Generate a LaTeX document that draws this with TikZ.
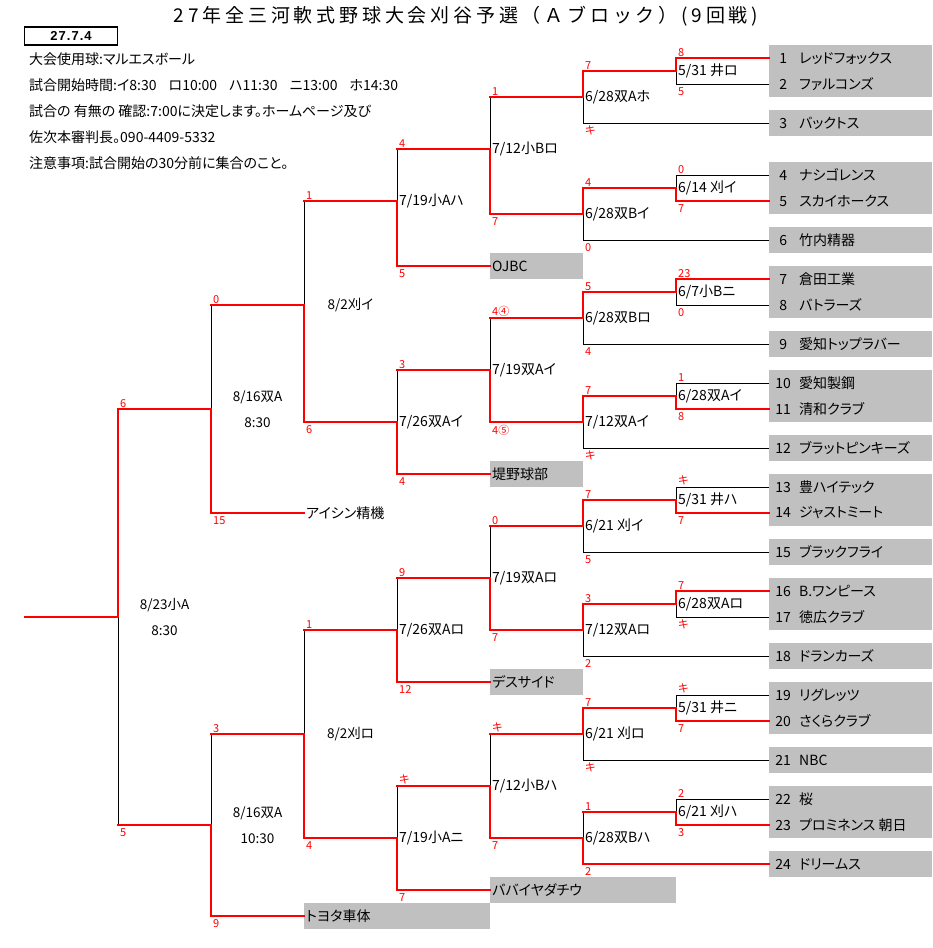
\documentclass[tikz,border=0pt]{standalone}
\usepackage{fontspec}
\setmainfont{Noto Sans CJK JP}[RawFeature=+palt]
\newfontfamily\headfont{Noto Sans CJK JP}[LetterSpace=20]
\newfontfamily\datefont{Liberation Sans}[LetterSpace=8]
\usepackage{tikz}
\usetikzlibrary{positioning}
\usetikzlibrary{calc}
\definecolor{slotgray}{RGB}{192,192,192}
\definecolor{winred}{RGB}{255,0,0}
\newcommand\colx[1]{25+93*#1}
\newcommand\rowy[1]{13*#1+6}
\newcommand\namefont{\fontsize{14}{16}\selectfont}
\newcommand\scorefont{\fontsize{11}{12}\selectfont}
\tikzset{
    win/.style = {draw=winred, line width=2pt, line cap=rect},
    lose/.style = {draw=black, line width=0.9pt, line cap=rect},
}
\tikzset{
    team/.style = {fill=slotgray, anchor=west, minimum height=26pt, inner xsep=4pt, inner ysep=0pt, font=\namefont},
    slot/.style = {fill=slotgray, anchor=west, minimum height=26pt, inner xsep=2pt, inner ysep=0pt, font=\namefont},
    plainslot/.style = {anchor=west, inner xsep=2pt, inner ysep=0pt, font=\namefont},
    matchlabel/.style = {anchor=west, inner sep=0pt, xshift=2pt, font=\namefont},
    midlabel/.style = {align=center, inner sep=0pt, font=\fontsize{13.5}{26}\selectfont},
    topscore/.style = {text=winred, inner sep=0pt, anchor=south west, xshift=2pt, yshift=1.5pt, font=\scorefont},
    botscore/.style = {text=winred, inner sep=0pt, anchor=north west, xshift=2pt, yshift=-3pt, font=\scorefont},
    note/.style = {anchor=west, inner sep=0pt, font=\namefont},
    headline/.style = {inner sep=0pt, font=\headfont\fontsize{19}{22}\selectfont},
    datebox/.style = {draw, line width=1.8pt, minimum width=93pt, minimum height=18pt, inner sep=0pt, font=\datefont\bfseries\fontsize{13}{13}\selectfont},
}

\begin{document}
\begin{tikzpicture}[x=1pt, y=-1pt]
    \useasboundingbox (0,0) rectangle (932,948);

    \node[headline] (title) at (466,16) {27年全三河軟式野球大会刈谷予選（Ａブロック）(9回戦)};
    \node[datebox] (date) at (71,36) {27.7.4};
    \foreach \i/\txt in {0/大会使用球:マルエスボール,
            1/試合開始時間:イ8:30\hspace{12pt}ロ10:00\hspace{12pt}ハ11:30\hspace{12pt}ニ13:00\hspace{12pt}ホ14:30,
            2/試合の 有無の 確認:7:00に決定します。ホームページ及び,
            3/佐次本審判長。090-4409-5332,
            4/注意事項:試合開始の30分前に集合のこと。}
        \node[note] (note\i) at (29,{59+26*\i}) {\txt};

    \foreach \m/\k/\rt/\rj/\rb in {m0/1/31/47/63, m1a/2/23/31/39, m1b/2/56/63/70,
            m2a/3/15/23/32, m2b/3/48/56/64,
            m3a/4/11/15/20, m3b/4/28/32/36, m3c/4/44/48/52, m3d/4/60/64/68,
            m4a/5/7/11/16, m4b/5/24/28/32, m4c/5/40/44/48, m4d/5/56/60/64,
            m5a/6/5/7/9, m5b/6/14/16/18, m5c/6/22/24/26, m5d/6/30/32/34,
            m5e/6/38/40/42, m5f/6/46/48/50, m5g/6/54/56/58, m5h/6/62/64/66,
            m6a/7/4/5/6, m6b/7/13/14/15, m6c/7/21/22/23, m6d/7/29/30/31,
            m6e/7/37/38/39, m6f/7/45/46/47, m6g/7/53/54/55, m6h/7/61/62/63}
    {
        \coordinate (\m-t) at ({\colx{\k}},{\rowy{\rt}});
        \coordinate (\m-j) at ({\colx{\k}},{\rowy{\rj}});
        \coordinate (\m-b) at ({\colx{\k}},{\rowy{\rb}});
    }
    \coordinate (champ) at ({\colx{0}},{\rowy{47}});

    \foreach \n/\r/\tm in {1/4/レッドフォックス, 2/6/ファルコンズ, 3/9/バックトス,
            4/13/ナシゴレンス, 5/15/スカイホークス, 6/18/竹内精器,
            7/21/倉田工業, 8/23/バトラーズ, 9/26/愛知トップラバー,
            10/29/愛知製鋼, 11/31/清和クラブ, 12/34/ブラットピンキーズ,
            13/37/豊ハイテック, 14/39/ジャストミート, 15/42/ブラックフライ,
            16/45/B.ワンピース, 17/47/徳広クラブ, 18/50/ドランカーズ,
            19/53/リグレッツ, 20/55/さくらクラブ, 21/58/NBC,
            22/61/桜, 23/63/プロミネンス 朝日, 24/66/ドリームス}
        \node[team] (t\n) at ({\colx{8}},{\rowy{\r}}) {\makebox[20pt][c]{\n}\hspace{6pt}\makebox[129pt][l]{\tm}};

    \node[slot] (ojbc) at ({\colx{5}},{\rowy{20}}) {\makebox[89pt][l]{OJBC}};
    \node[slot] (tsutsumi) at ({\colx{5}},{\rowy{36}}) {\makebox[89pt][l]{堤野球部}};
    \node[slot] (deathside) at ({\colx{5}},{\rowy{52}}) {\makebox[89pt][l]{デスサイド}};
    \node[slot] (babaiya) at ({\colx{5}},{\rowy{68}}) {\makebox[182pt][l]{ババイヤダチウ}};
    \node[slot] (toyota) at ({\colx{3}},{\rowy{70}}) {\makebox[182pt][l]{トヨタ車体}};
    \node[plainslot] (aisin) at ({\colx{3}},{\rowy{39}}) {アイシン精機};

    \foreach \m/\w in {m0/t, m1a/b, m1b/b, m2a/b, m2b/b, m3a/b, m3b/b, m3c/b, m3d/b,
            m4a/b, m4b/b, m4c/b, m4d/b, m5a/t, m5b/t, m5c/t, m5d/t, m5e/t, m5f/t, m5g/t, m5h/b,
            m6a/t, m6b/b, m6c/t, m6d/b, m6e/b, m6f/t, m6g/b, m6h/b}
        \draw[lose] (\m-t) -- (\m-b);

    \foreach \src/\dst in {m5a-b/t3.west, m5b-b/t6.west, m5c-b/t9.west, m5d-b/t12.west,
            m5e-b/t15.west, m5f-b/t18.west, m5g-b/t21.west,
            m6a-b/t2.west, m6b-t/t4.west, m6c-b/t8.west, m6d-t/t10.west,
            m6e-t/t13.west, m6f-b/t17.west, m6g-t/t19.west, m6h-t/t22.west}
        \draw[lose] (\src) -- (\dst);

    \foreach \m/\w in {m0/t, m1a/b, m1b/b, m2a/b, m2b/b, m3a/b, m3b/b, m3c/b, m3d/b,
            m4a/b, m4b/b, m4c/b, m4d/b, m5a/t, m5b/t, m5c/t, m5d/t, m5e/t, m5f/t, m5g/t, m5h/b,
            m6a/t, m6b/b, m6c/t, m6d/b, m6e/b, m6f/t, m6g/b, m6h/b}
        \draw[win] (\m-j) -- (\m-\w);

    \foreach \src/\dst in {champ/m0-j, m0-t/m1a-j, m0-b/m1b-j,
            m1a-t/m2a-j, m1a-b/aisin.west, m1b-t/m2b-j, m1b-b/toyota.west,
            m2a-t/m3a-j, m2a-b/m3b-j, m2b-t/m3c-j, m2b-b/m3d-j,
            m3a-t/m4a-j, m3a-b/ojbc.west, m3b-t/m4b-j, m3b-b/tsutsumi.west,
            m3c-t/m4c-j, m3c-b/deathside.west, m3d-t/m4d-j, m3d-b/babaiya.west,
            m4a-t/m5a-j, m4a-b/m5b-j, m4b-t/m5c-j, m4b-b/m5d-j,
            m4c-t/m5e-j, m4c-b/m5f-j, m4d-t/m5g-j, m4d-b/m5h-j,
            m5a-t/m6a-j, m5b-t/m6b-j, m5c-t/m6c-j, m5d-t/m6d-j,
            m5e-t/m6e-j, m5f-t/m6f-j, m5g-t/m6g-j, m5h-t/m6h-j, m5h-b/t24.west,
            m6a-t/t1.west, m6b-b/t5.west, m6c-t/t7.west, m6d-b/t11.west,
            m6e-b/t14.west, m6f-t/t16.west, m6g-b/t20.west, m6h-b/t23.west}
        \draw[win] (\src) -- (\dst);

    \foreach \m/\st/\sb in {m0/6/5, m1a/0/15, m1b/3/9, m2a/1/6, m2b/1/4,
            m3a/4/5, m3b/3/4, m3c/9/12, m3d/キ/7,
            m4a/1/7, m4b/4④/4⑤, m4c/0/7, m4d/キ/7,
            m5a/7/キ, m5b/4/0, m5c/5/4, m5d/7/キ, m5e/7/5, m5f/3/2, m5g/7/キ, m5h/1/2,
            m6a/8/5, m6b/0/7, m6c/23/0, m6d/1/8, m6e/キ/7, m6f/7/キ, m6g/キ/7, m6h/2/3}
    {
        \node[topscore] (\m-st) at (\m-t) {\st};
        \node[botscore] (\m-sb) at (\m-b) {\sb};
    }

    \foreach \m/\lab in {m3a/{7/19小Aハ}, m3b/{7/26双Aイ}, m3c/{7/26双Aロ}, m3d/{7/19小Aニ},
            m4a/{7/12小Bロ}, m4b/{7/19双Aイ}, m4c/{7/19双Aロ}, m4d/{7/12小Bハ},
            m5a/{6/28双Aホ}, m5b/{6/28双Bイ}, m5c/{6/28双Bロ}, m5d/{7/12双Aイ},
            m5e/{6/21 刈イ}, m5f/{7/12双Aロ}, m5g/{6/21 刈ロ}, m5h/{6/28双Bハ},
            m6a/{5/31 井ロ}, m6b/{6/14 刈イ}, m6c/{6/7小Bニ}, m6d/{6/28双Aイ},
            m6e/{5/31 井ハ}, m6f/{6/28双Aロ}, m6g/{5/31 井ニ}, m6h/{6/21 刈ハ}}
        \node[matchlabel] (\m-lab) at (\m-j) {\lab};

    \node[midlabel] (m0-lab) at ([xshift=46.5pt]m0-j) {8/23小A\\8:30};
    \node[midlabel] (m1a-lab) at ([xshift=46.5pt]m1a-j) {8/16双A\\8:30};
    \node[midlabel] (m1b-lab) at ([xshift=46.5pt]m1b-j) {8/16双A\\10:30};
    \node[midlabel] (m2a-lab) at ([xshift=46.5pt]m2a-j) {8/2刈イ};
    \node[midlabel] (m2b-lab) at ([xshift=46.5pt]m2b-j) {8/2刈ロ};
\end{tikzpicture}
\end{document}
